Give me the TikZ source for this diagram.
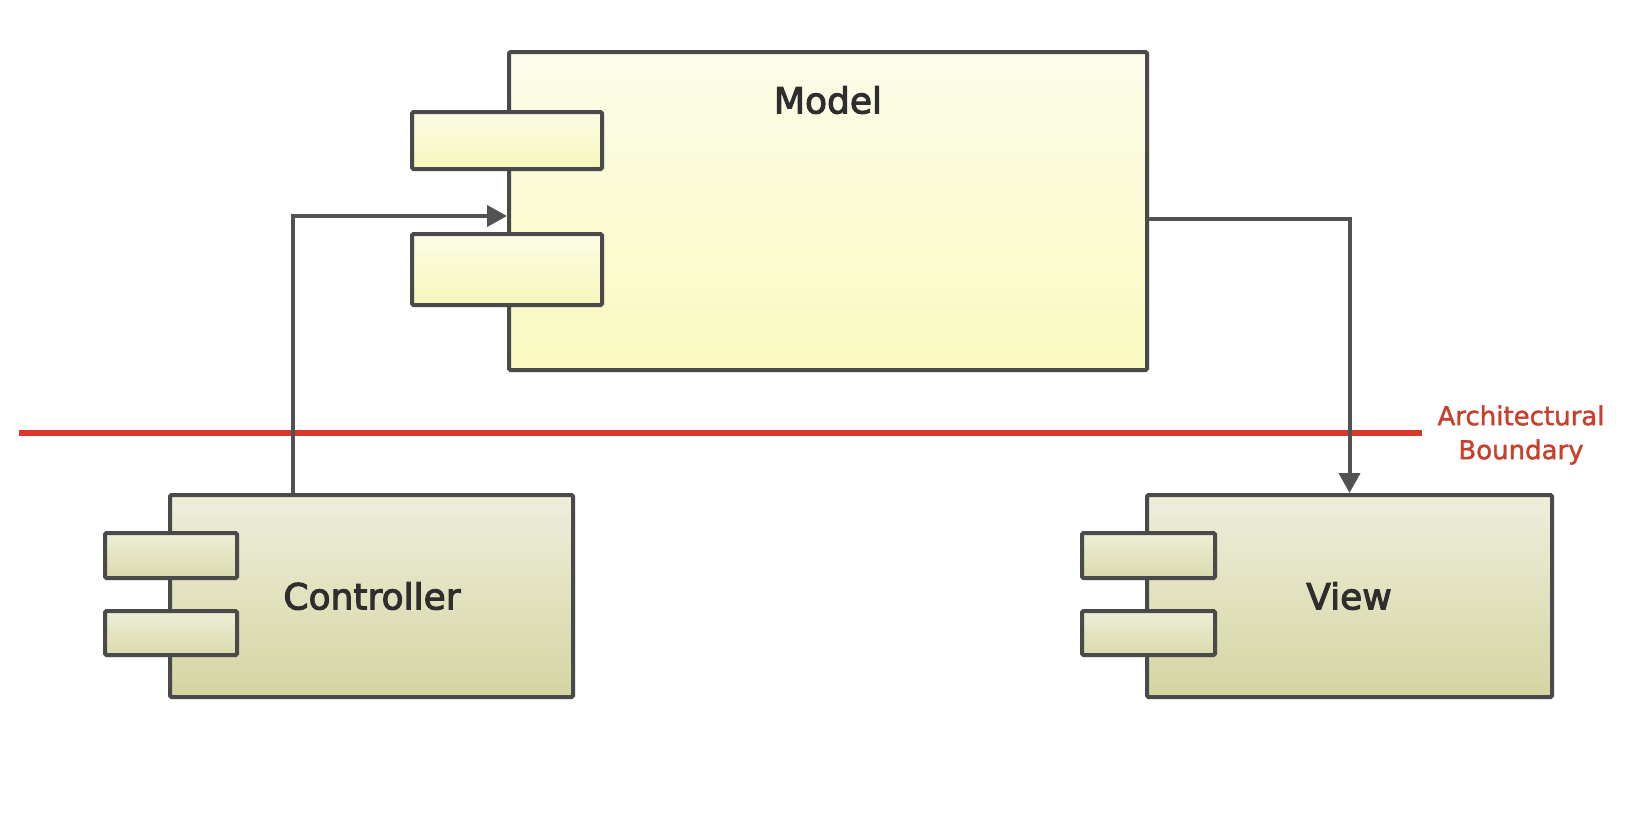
\documentclass[tikz,border=0pt]{standalone}
\usepackage{fontspec}
\setmainfont{DejaVu Sans}
\newfontfamily\lblfont[FakeBold=3]{DejaVu Sans}
\newfontfamily\redfont[FakeBold=1.5]{DejaVu Sans}
\usetikzlibrary{arrows.meta,shadows}
\definecolor{edgegray}{HTML}{4A4A4A}
\definecolor{linegray}{HTML}{525252}
\definecolor{bred}{HTML}{D9392A}
\definecolor{btext}{HTML}{C8402C}
\definecolor{txtgray}{HTML}{2E2E2E}
\begin{document}
\begin{tikzpicture}[x=1pt,y=-1pt,
  box/.style={draw=edgegray,line width=4pt,rounded corners=1.5pt,inner sep=0pt,
    drop shadow={opacity=0.18,shadow xshift=2pt,shadow yshift=-2pt}},
  modelbox/.style={box,top color={rgb,255:red,252;green,252;blue,234},bottom color={rgb,255:red,250;green,250;blue,192}},
  mport/.style={box,top color={rgb,255:red,252;green,252;blue,230},bottom color={rgb,255:red,246;green,246;blue,186}},
  olivebox/.style={box,top color={rgb,255:red,238;green,238;blue,220},bottom color={rgb,255:red,213;green,213;blue,162}},
  oport/.style={box,top color={rgb,255:red,238;green,238;blue,216},bottom color={rgb,255:red,218;green,218;blue,172}},
  lbl/.style={font=\lblfont\fontsize{36}{40}\selectfont,text=txtgray},
  conn/.style={draw=linegray,line width=4pt},
  tip/.style={-{Triangle[width=21pt,length=20pt]}}
]
\useasboundingbox (0,0) rectangle (1630,814);
\fill[white] (0,0) rectangle (1630,814);

% Model
\node[modelbox,minimum width=638pt,minimum height=318pt] (model) at (828,211) {};
\node[lbl] (modellbl) at (828,100) {Model};
\node[mport,minimum width=190pt,minimum height=57pt] (mp1) at (507,140.5) {};
\node[mport,minimum width=190pt,minimum height=71pt] (mp2) at (507,269.5) {};

% Controller
\node[olivebox,minimum width=403pt,minimum height=202pt] (ctrl) at (371.5,596) {};
\node[lbl] (ctrllbl) at (372,596) {Controller};
\node[oport,minimum width=132pt,minimum height=45pt] (cp1) at (171,555.5) {};
\node[oport,minimum width=132pt,minimum height=44pt] (cp2) at (171,633) {};

% View
\node[olivebox,minimum width=405pt,minimum height=202pt] (view) at (1349.5,596) {};
\node[lbl] (viewlbl) at (1349,596) {View};
\node[oport,minimum width=133pt,minimum height=45pt] (vp1) at (1148.5,555.5) {};
\node[oport,minimum width=133pt,minimum height=44pt] (vp2) at (1148.5,633) {};

% Architectural boundary
\coordinate (bl) at (19,433);
\coordinate (br) at (1422,433);
\draw[draw=bred,line width=6pt] (bl) -- (br);
\node[font=\redfont\fontsize{26}{34}\selectfont,text=btext,align=center] (blbl) at (1521,435) {Architectural\\Boundary};

% Connectors
\coordinate (cx) at (293,0);
\draw[conn,tip] (cx |- ctrl.north) |- ([yshift=-5pt]model.west);
\draw[conn,tip] ([yshift=-8pt]model.east) -| (view.north);
\end{tikzpicture}
\end{document}
